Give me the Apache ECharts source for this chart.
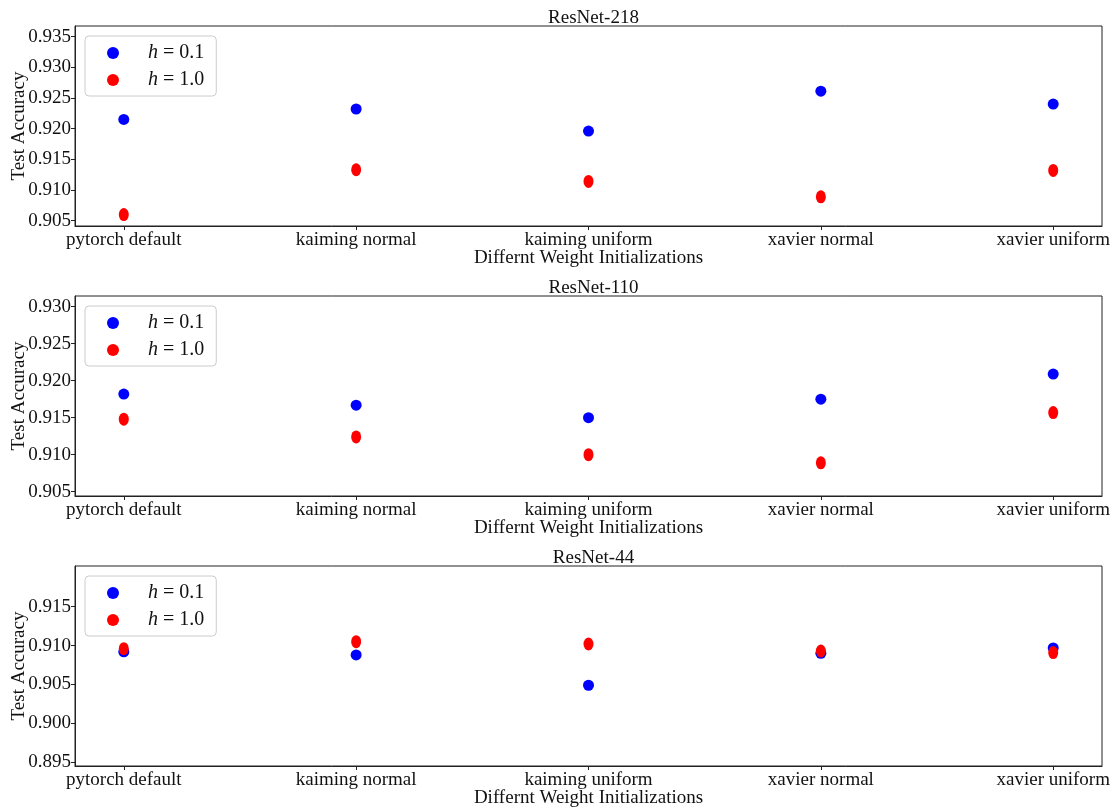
<!DOCTYPE html>
<html>
<head>
<meta charset="utf-8">
<script src="https://cdn.jsdelivr.net/npm/echarts@6/dist/echarts.min.js"></script>
<style>
  html, body { margin: 0; padding: 0; background: #fff; }
  #chart { width: 1114px; height: 810px; }
</style>
</head>
<body>
<div id="chart"></div>
<script>
const categories = ['pytorch default', 'kaiming normal', 'kaiming uniform', 'xavier normal', 'xavier uniform'];
const titles = ['ResNet-218', 'ResNet-110', 'ResNet-44'];
const seriesNames = ['h = 0.1', 'h = 1.0'];

// test accuracy with h = 0.1
const acc218Small = [0.9215, 0.9232, 0.9196, 0.9261, 0.9240];
const acc110Small = [0.9182, 0.9167, 0.9150, 0.9175, 0.9209];
const acc44Small = [0.9092, 0.9088, 0.9049, 0.9090, 0.9097];

// test accuracy with h = 1.0
const acc218Large = [0.9060, 0.9133, 0.9114, 0.9089, 0.9132];
const acc110Large = [0.9148, 0.9124, 0.9100, 0.9089, 0.9157];
const acc44Large = [0.9096, 0.9105, 0.9102, 0.9093, 0.9091];

// y tick labels of each panel
const yTicks218 = [0.905, 0.910, 0.915, 0.920, 0.925, 0.930, 0.935];
const yTicks110 = [0.905, 0.910, 0.915, 0.920, 0.925, 0.930];
const yTicks44 = [0.895, 0.900, 0.905, 0.910, 0.915];

// y limits of each panel
const yLim218 = [0.90414, 0.93672];
const yLim110 = [0.90442, 0.93145];
const yLim44 = [0.89452, 0.92023];

const panels = [
  { title: titles[0], small: acc218Small, large: acc218Large, ticks: yTicks218, lim: yLim218 },
  { title: titles[1], small: acc110Small, large: acc110Large, ticks: yTicks110, lim: yLim110 },
  { title: titles[2], small: acc44Small, large: acc44Large, ticks: yTicks44, lim: yLim44 },
];

const FONT = '"Liberation Serif", "DejaVu Serif", serif';
const INK = '#111';
const gridTops = [26, 296, 566];
const gridLeft = 75;
const gridRight = 12;
const gridHeight = 200;
const plotCenter = (gridLeft + (1114 - gridRight)) / 2;
const xIdx = categories.map((c, i) => i);

const toPoints = (values) => values.map((v, i) => [i, v]);

const option = {
  animation: false,
  title: panels.map((p, i) => ({
    text: p.title,
    left: plotCenter,
    textAlign: 'center',
    top: gridTops[i] - 22,
    textStyle: { fontFamily: FONT, fontSize: 19, fontWeight: 'normal', color: INK },
  })),
  legend: panels.map((p, i) => ({
    orient: 'vertical',
    left: 85,
    top: gridTops[i] + 10,
    data: [
      { name: seriesNames[0], icon: 'circle' },
      { name: seriesNames[1], icon: 'circle' },
    ],
    itemWidth: 12,
    itemHeight: 12,
    itemGap: 7,
    padding: [7, 12, 6, 22],
    borderColor: '#cccccc',
    borderWidth: 1,
    borderRadius: 4,
    backgroundColor: 'rgba(255,255,255,0.8)',
    selectedMode: false,
    formatter: (name) => '{s|}{i|h}{t|' + name.slice(1) + '}',
    textStyle: {
      fontFamily: FONT,
      fontSize: 19,
      color: INK,
      rich: {
        s: { width: 24 },
        i: { fontFamily: FONT, fontSize: 20, fontStyle: 'italic', color: INK, lineHeight: 22 },
        t: { fontFamily: FONT, fontSize: 20, color: INK, lineHeight: 22 },
      },
    },
  })),
  grid: panels.map((p, i) => ({
    left: gridLeft,
    right: gridRight,
    top: gridTops[i],
    height: gridHeight,
    outerBoundsMode: 'none',
    containLabel: false,
    show: true,
    borderColor: '#222',
    borderWidth: 1,
  })),
  xAxis: panels.map((p, i) => ({
    type: 'value',
    gridIndex: i,
    min: -0.21,
    max: 4.21,
    name: 'Differnt Weight Initializations',
    nameLocation: 'middle',
    nameGap: 23,
    nameMoveOverlap: false,
    nameTextStyle: { fontFamily: FONT, fontSize: 19, color: INK },
    axisLine: { show: true, onZero: false, lineStyle: { color: '#222', width: 1 } },
    axisTick: { show: true, length: 4, customValues: xIdx, lineStyle: { color: '#222' } },
    axisLabel: {
      customValues: xIdx,
      margin: 5,
      fontFamily: FONT,
      fontSize: 19,
      color: INK,
      formatter: (v) => categories[Math.round(v)] || '',
    },
    splitLine: { show: false },
  })),
  yAxis: panels.map((p, i) => ({
    type: 'value',
    gridIndex: i,
    min: p.lim[0],
    max: p.lim[1],
    name: 'Test Accuracy',
    nameLocation: 'middle',
    nameGap: 46,
    nameMoveOverlap: false,
    nameTextStyle: { fontFamily: FONT, fontSize: 19, color: INK },
    axisLine: { show: true, onZero: false, lineStyle: { color: '#222', width: 1 } },
    axisTick: { show: true, length: 4, customValues: p.ticks, lineStyle: { color: '#222' } },
    axisLabel: {
      customValues: p.ticks,
      margin: 4,
      fontFamily: FONT,
      fontSize: 19,
      color: INK,
      formatter: (v) => v.toFixed(3),
    },
    splitLine: { show: false },
  })),
  series: panels.flatMap((p, i) => [
    {
      name: seriesNames[0],
      type: 'scatter',
      xAxisIndex: i,
      yAxisIndex: i,
      symbol: 'circle',
      symbolSize: 11,
      itemStyle: { color: '#0000ff', opacity: 1 },
      data: toPoints(p.small),
    },
    {
      name: seriesNames[1],
      type: 'scatter',
      xAxisIndex: i,
      yAxisIndex: i,
      symbol: 'circle',
      symbolSize: [10, 13],
      itemStyle: { color: '#ff0000', opacity: 1 },
      data: toPoints(p.large),
    },
  ]),
};

const chart = echarts.init(document.getElementById('chart'));
chart.setOption(option);
</script>
</body>
</html>
